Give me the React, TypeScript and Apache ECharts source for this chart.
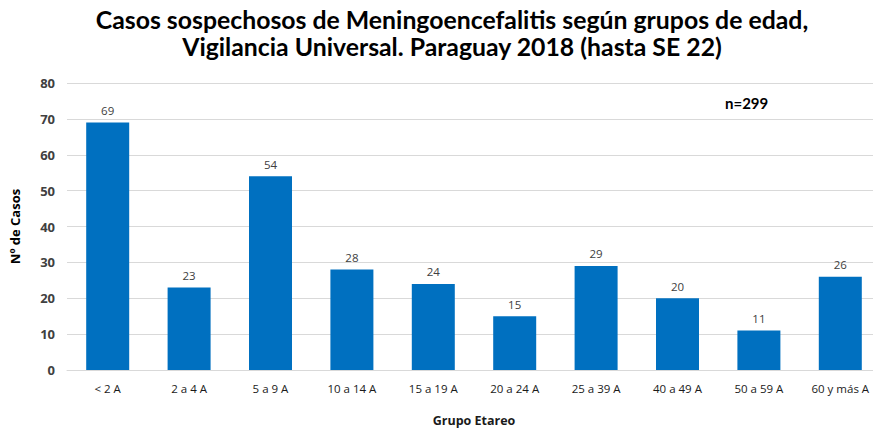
import React, { useEffect, useRef } from "react";
import * as echarts from "echarts";

const categories = ["< 2 A", "2 a 4 A", "5 a 9 A", "10 a 14 A", "15 a 19 A", "20 a 24 A", "25 a 39 A", "40 a 49 A", "50 a 59 A", "60 y más A"];
const values = [69, 23, 54, 28, 24, 15, 29, 20, 11, 26];
const titleLines = ["Casos sospechosos de Meningoencefalitis según grupos de edad,", "Vigilancia Universal. Paraguay 2018 (hasta SE 22)"];
const totalLabel = "n=299";

export default function App() {
  const ref = useRef<HTMLDivElement>(null);
  useEffect(() => {
    if (!ref.current) return;
    const chart = echarts.init(ref.current, null, { renderer: "svg" });
    chart.setOption({
      animation: false,
      backgroundColor: "#ffffff",
      textStyle: { fontFamily: "Lato" },
      grid: { left: 67, top: 83, width: 814, height: 287, outerBoundsMode: "none", containLabel: false },
      graphic: [
        {
          type: "text",
          x: 452,
          y: 6,
          style: {
            text: titleLines.join("\n"),
            textAlign: "center",
            font: "bold 24.8px Lato",
            lineHeight: 27,
            fill: "#000000",
          },
        },
        {
          type: "text",
          x: 725,
          y: 95,
          style: { text: totalLabel, font: "bold 15px Lato", fill: "#000000" },
        },
      ],
      xAxis: {
        type: "category",
        data: categories,
        axisLine: { lineStyle: { color: "#d9d9d9" } },
        axisTick: { show: false },
        axisLabel: { color: "#1a1a1a", fontSize: 11.5, fontFamily: "Open Sans", margin: 12, interval: 0 },
        name: "Grupo Etareo",
        nameLocation: "middle",
        nameGap: 44,
        nameTextStyle: { color: "#1a1a1a", fontSize: 12.5, fontFamily: "Open Sans", fontWeight: "bold" },
      },
      yAxis: {
        type: "value",
        min: 0,
        max: 80,
        interval: 10,
        axisLine: { show: false },
        axisTick: { show: false },
        splitLine: { lineStyle: { color: "#d9d9d9" } },
        axisLabel: { color: "#404040", fontSize: 13, fontFamily: "Open Sans", fontWeight: "bold", margin: 12 },
        name: "Nº de Casos",
        nameLocation: "middle",
        nameGap: 46,
        nameRotate: 90,
        nameTextStyle: { color: "#000000", fontSize: 13, fontFamily: "Open Sans", fontWeight: "bold" },
      },
      series: [
        {
          type: "bar",
          data: values,
          barWidth: 43,
          itemStyle: { color: "#0070C0" },
          label: { show: true, position: "top", color: "#404040", fontSize: 11.5, fontFamily: "Open Sans", distance: 6 },
        },
      ],
    });
    return () => chart.dispose();
  }, []);
  return <div ref={ref} style={{ width: 873, height: 432, position: "absolute", left: 0, top: 0 }} />;
}
